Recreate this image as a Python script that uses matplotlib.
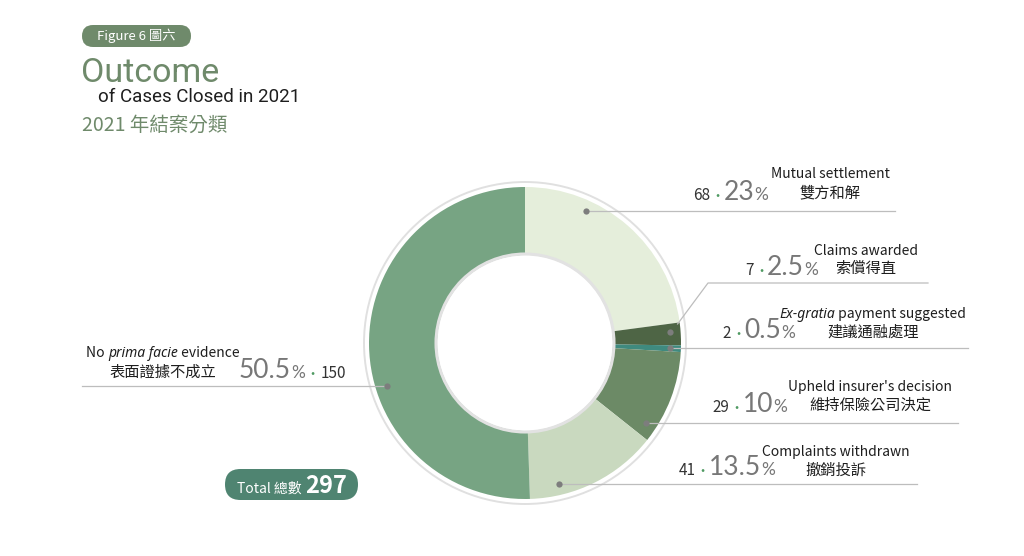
import numpy as np
import matplotlib
matplotlib.use("Agg")
import matplotlib.pyplot as plt
from matplotlib.patches import FancyBboxPatch, Circle

plt.rcParams['font.family'] = ['Noto Sans CJK TC', 'DejaVu Sans']

# data (clockwise from 12 o'clock)
counts = [68, 7, 2, 29, 41, 150]
pct_labels = ['23', '2.5', '0.5', '10', '13.5', '50.5']
en_labels = [
    [('Mutual settlement', 'n')],
    [('Claims awarded', 'n')],
    [('Ex-gratia', 'i'), (' payment suggested', 'n')],
    [("Upheld insurer's decision", 'n')],
    [('Complaints withdrawn', 'n')],
    [('No ', 'n'), ('prima facie', 'i'), (' evidence', 'n')],
]
zh_labels = ['雙方和解', '索償得直', '建議通融處理', '維持保險公司決定', '撤銷投訴', '表面證據不成立']
colors = ['#e5eedb', '#4e6545', '#3f8a7f', '#6c8a66', '#c9d9bf', '#77a483']
total = 297

# layout (pixel coords, y measured from the top)
W, H = 1024, 556
cx, cy = 525, 343
r_out, r_in = 156, 88
dot_frac = [0.30, 0.38, 0.5, 0.86, 0.76, 0.41]
dot_r = 145
line_end = [895, 928, 968, 958, 917, 82]
elbow = [None, (708, 283), None, None, None, None]
pct_x = [768, 818, 795, 787, 775, 239]
pct_base = [200, 275, 338, 412, 475, 378]
lab_cx = [830, 866, 873, 870, 836, 163]
en_base = [178, 255, 318, 391, 456, 357]
zh_mid = [193, 268, 332, 405, 470, 372]

GREEN = '#6f8a6b'


def Y(y):
    return H - y


fig = plt.figure(figsize=(W / 100, H / 100), dpi=100)
ax = fig.add_axes([0, 0, 1, 1])
renderer = fig.canvas.get_renderer()


def run(x, y, pieces, ha='left'):
    # pieces: list of (text, props); drawn side by side on one baseline
    arts = [ax.text(0, 0, s, va='baseline', ha='left', **p) for s, p in pieces]
    widths = [a.get_window_extent(renderer).width for a in arts]
    tw = sum(widths)
    if ha == 'right':
        x0 = x - tw
    elif ha == 'center':
        x0 = x - tw / 2
    else:
        x0 = x
    for a, w in zip(arts, widths):
        a.set_position((x0, Y(y)))
        x0 += w


# donut with white rim and soft shadow
ax.add_patch(Circle((cx, Y(cy)), 161, facecolor='white', edgecolor='#e0e0e0', lw=1.4, zorder=0))
wedges, _ = ax.pie(counts, colors=colors, startangle=90, counterclock=False,
                   radius=r_out, center=(cx, Y(cy)),
                   wedgeprops=dict(width=r_out - r_in, edgecolor='none'))
ax.add_patch(Circle((cx, Y(cy)), r_in + 1, facecolor='none', edgecolor='#e2e2e2', lw=2.2, zorder=3))

num_p = dict(fontsize=11, color='#333333')
dot_p = dict(fontsize=8, color='#4f9a62', fontweight='bold')
big_p = dict(fontsize=19, color='#777777', family=['Lato', 'DejaVu Sans'])
pc_p = dict(fontsize=12.5, color='#777777', family=['Lato', 'DejaVu Sans'])
en_n = dict(fontsize=10, color='#1e1e1e')
en_i = dict(fontsize=10, color='#1e1e1e', family=['Noto Sans', 'DejaVu Sans'], style='italic')

for i, w in enumerate(wedges):
    ang = np.deg2rad(w.theta2 - dot_frac[i] * (w.theta2 - w.theta1))
    dx = cx + dot_r * np.cos(ang)
    dy = Y(cy) + dot_r * np.sin(ang)
    if elbow[i] is None:
        xs, ys = [dx, line_end[i]], [dy, dy]
    else:
        ex, ey = elbow[i]
        xs, ys = [dx + 8, ex, line_end[i]], [dy + 8, Y(ey), Y(ey)]
    ax.plot(xs, ys, color='#bdbdbd', lw=0.9, zorder=4)
    ax.plot(dx, dy, 'o', ms=4.5, color='#7d7d7d', mec='none', zorder=5)

    if i == 5:
        run(pct_x[i], pct_base[i], [(pct_labels[i], big_p), ('%', pc_p), (' • ', dot_p),
                                    (str(counts[i]), num_p)], ha='left')
    else:
        run(pct_x[i], pct_base[i], [(str(counts[i]), num_p), (' •', dot_p),
                                    (pct_labels[i], big_p), ('%', pc_p)], ha='right')
    run(lab_cx[i], en_base[i], [(s, en_i if st == 'i' else en_n) for s, st in en_labels[i]], ha='center')
    ax.text(lab_cx[i], Y(zh_mid[i]), zh_labels[i], fontsize=11, color='#1e1e1e',
            ha='center', va='center')

# header
ax.add_patch(FancyBboxPatch((82, Y(47)), 109, 22, boxstyle='round,pad=0,rounding_size=11',
                            facecolor=GREEN, edgecolor='none'))
ax.text(136, Y(36), 'Figure 6 圖六', fontsize=9.5, color='white', ha='center', va='center')
ax.text(81, Y(82), 'Outcome', fontsize=24.5, color=GREEN, ha='left', va='baseline',
        family=['Roboto', 'DejaVu Sans'])
ax.text(300, Y(102), 'of Cases Closed in 2021', fontsize=13.5, color='#1e1e1e', ha='right',
        va='baseline', family=['Roboto', 'DejaVu Sans'])
ax.text(82, Y(125), '2021 年結案分類', fontsize=14, color=GREEN, ha='left', va='center')

# total badge
ax.add_patch(FancyBboxPatch((225, Y(500)), 133, 31, boxstyle='round,pad=0,rounding_size=15.5',
                            facecolor='#4f8471', edgecolor='none'))
run(292, 493, [('Total 總數 ', dict(fontsize=10, color='white')),
               (str(total), dict(fontsize=17, color='white', fontweight='bold'))], ha='center')

ax.set_xlim(0, W)
ax.set_ylim(0, H)
ax.set_aspect('auto')
ax.axis('off')

fig.savefig('out.png', dpi=100, facecolor='white')
